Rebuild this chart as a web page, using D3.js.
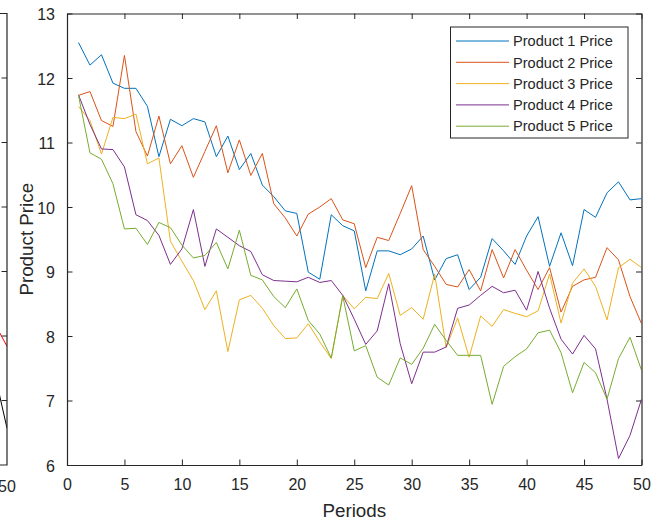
<!DOCTYPE html>
<html>
<head>
<meta charset="utf-8">
<script src="https://cdn.jsdelivr.net/npm/d3@7"></script>
<style>
    body { margin: 0; background: #fff; }
    text { font-family: "Liberation Sans", Arial, sans-serif; fill: #262626; }
</style>
</head>
<body>
<div id="chart"></div>
<script>
var periods = [1, 2, 3, 4, 5, 6, 7, 8, 9, 10, 11, 12, 13, 14, 15, 16, 17, 18, 19, 20,
    21, 22, 23, 24, 25, 26, 27, 28, 29, 30, 31, 32, 33, 34, 35, 36, 37, 38, 39, 40,
    41, 42, 43, 44, 45, 46, 47, 48, 49, 50];
var product1 = [12.55, 12.20, 12.36, 11.92, 11.84, 11.84, 11.56, 10.78, 11.36, 11.26,
    11.37, 11.32, 10.78, 11.10, 10.58, 10.83, 10.34, 10.16, 9.94, 9.90,
    8.99, 8.88, 9.88, 9.71, 9.63, 8.70, 9.32, 9.32, 9.26, 9.35,
    9.55, 8.87, 9.20, 9.26, 8.72, 8.91, 9.51, 9.32, 9.11, 9.55,
    9.85, 9.08, 9.60, 9.09, 9.96, 9.84, 10.22, 10.39, 10.11, 10.13];
var product2 = [11.73, 11.79, 11.34, 11.25, 12.35, 11.17, 10.79, 11.41, 10.67, 10.95,
    10.46, 10.86, 11.26, 10.53, 11.04, 10.49, 10.83, 10.05, 9.83, 9.55,
    9.89, 10.00, 10.13, 9.80, 9.74, 9.06, 9.53, 9.48, 9.90, 10.33,
    9.34, 9.08, 8.80, 8.76, 9.03, 8.70, 9.34, 8.90, 9.34, 9.02,
    8.72, 9.06, 8.37, 8.77, 8.87, 8.91, 9.37, 9.18, 8.61, 8.19];
var product3 = [11.56, 11.34, 10.82, 11.39, 11.37, 11.44, 10.67, 10.76, 9.47, 9.16,
    8.86, 8.41, 8.70, 7.76, 8.56, 8.63, 8.43, 8.16, 7.96, 7.97,
    8.19, 7.91, 7.65, 8.63, 8.42, 8.60, 8.58, 8.97, 8.32, 8.44,
    8.26, 8.96, 7.82, 8.28, 7.67, 8.31, 8.15, 8.41, 8.35, 8.30,
    8.39, 8.96, 8.20, 8.82, 9.04, 8.77, 8.25, 9.06, 9.19, 9.06];
var product4 = [11.74, 11.28, 10.90, 10.89, 10.62, 9.88, 9.79, 9.56, 9.11, 9.35,
    9.96, 9.08, 9.66, 9.53, 9.40, 9.31, 8.95, 8.86, 8.85, 8.84,
    8.91, 8.83, 8.86, 8.63, 8.26, 7.87, 8.08, 8.81, 7.88, 7.26,
    7.75, 7.75, 7.83, 8.43, 8.48, 8.63, 8.77, 8.67, 8.71, 8.40,
    9.00, 8.43, 7.95, 7.72, 8.01, 7.80, 7.02, 6.10, 6.46, 7.02];
var product5 = [11.73, 10.84, 10.74, 10.36, 9.66, 9.67, 9.42, 9.76, 9.68, 9.41,
    9.21, 9.25, 9.45, 9.04, 9.64, 8.94, 8.87, 8.61, 8.44, 8.73,
    8.24, 8.03, 7.66, 8.62, 7.77, 7.85, 7.36, 7.24, 7.66, 7.56,
    7.81, 8.18, 7.93, 7.70, 7.70, 7.70, 6.94, 7.53, 7.68, 7.80,
    8.05, 8.09, 7.74, 7.12, 7.59, 7.43, 7.02, 7.65, 7.98, 7.47];
var seriesNames = ["Product 1 Price", "Product 2 Price", "Product 3 Price", "Product 4 Price", "Product 5 Price"];
var xTicks = [0, 5, 10, 15, 20, 25, 30, 35, 40, 45, 50];
var yTicks = [6, 7, 8, 9, 10, 11, 12, 13];

// neighbouring subplot, only its right edge is visible
var leftPeriods = [49, 50];
var leftRed = [8.17, 7.84];
var leftBlack = [7.36, 6.57];

var outwidth = 663, outheight = 524;
var margin = { left: 67, top: 13.5, right: 21.5, bottom: 59 };
var width = outwidth - margin.left - margin.right;
var height = outheight - margin.top - margin.bottom;
var colors = ["#0072BD", "#D95319", "#EDB120", "#7E2F8E", "#77AC30"];
var axisColor = "#262626";
var tickLen = 5.5;

var svg = d3.select("#chart")
    .append("svg")
    .attr("width", outwidth)
    .attr("height", outheight);

var x = d3.scaleLinear().domain([0, 50]).range([margin.left, margin.left + width]);
var y = d3.scaleLinear().domain([6, 13]).range([margin.top + height, margin.top]);

var series = [product1, product2, product3, product4, product5].map(function (vals, i) {
    return { name: seriesNames[i], color: colors[i], values: vals };
});

var line = d3.line()
    .x(function (d, i) { return x(periods[i]); })
    .y(function (d) { return y(d); });

// left subplot remnant
var xLeft = d3.scaleLinear().domain([0, 50]).range([7 - width, 7]);
svg.append("clipPath").attr("id", "leftclip")
    .append("rect").attr("x", 0).attr("y", margin.top).attr("width", 7).attr("height", height);
var leftG = svg.append("g");
var leftLine = d3.line()
    .x(function (d, i) { return xLeft(leftPeriods[i]); })
    .y(function (d) { return y(d); });
leftG.selectAll(".left-line")
    .data([{ v: leftRed, c: "#FF0000" }, { v: leftBlack, c: "#000000" }])
    .join("path")
    .attr("class", "left-line")
    .attr("clip-path", "url(#leftclip)")
    .attr("fill", "none")
    .attr("stroke", function (d) { return d.c; })
    .attr("stroke-width", 1)
    .attr("d", function (d) { return leftLine(d.v); });
leftG.append("path")
    .attr("fill", "none")
    .attr("stroke", axisColor)
    .attr("stroke-width", 1.2)
    .attr("d", "M0," + y(13) + "H" + xLeft(50) + "V" + y(6) + "H0");
leftG.selectAll(".left-tick")
    .data(yTicks.slice(1, -1))
    .join("line")
    .attr("class", "left-tick")
    .attr("x1", xLeft(50) - tickLen)
    .attr("x2", xLeft(50))
    .attr("y1", function (d) { return y(d); })
    .attr("y2", function (d) { return y(d); })
    .attr("stroke", axisColor);
leftG.append("text")
    .attr("x", xLeft(50))
    .attr("y", y(6) + 27)
    .attr("text-anchor", "middle")
    .style("font-size", "16px")
    .text("50");

// data lines
svg.append("clipPath").attr("id", "plotclip")
    .append("rect").attr("x", margin.left).attr("y", margin.top).attr("width", width).attr("height", height);
svg.selectAll(".series-line")
    .data(series)
    .join("path")
    .attr("class", "series-line")
    .attr("clip-path", "url(#plotclip)")
    .attr("fill", "none")
    .attr("stroke", function (d) { return d.color; })
    .attr("stroke-width", 1)
    .attr("stroke-linejoin", "miter")
    .attr("d", function (d) { return line(d.values); });

// axes with box, ticks pointing inwards
var fmt = d3.format("d");
var xAxis = svg.append("g")
    .attr("transform", "translate(0," + (margin.top + height) + ")")
    .call(d3.axisBottom(x).tickValues(xTicks).tickFormat(fmt).tickSizeInner(-tickLen).tickSizeOuter(0).tickPadding(14));
var xAxisTop = svg.append("g")
    .attr("transform", "translate(0," + margin.top + ")")
    .call(d3.axisTop(x).tickValues(xTicks).tickSizeInner(-tickLen).tickSizeOuter(0).tickFormat(""));
var yAxis = svg.append("g")
    .attr("transform", "translate(" + margin.left + ",0)")
    .call(d3.axisLeft(y).tickValues(yTicks).tickFormat(fmt).tickSizeInner(-tickLen).tickSizeOuter(0).tickPadding(12));
var yAxisRight = svg.append("g")
    .attr("transform", "translate(" + (margin.left + width) + ",0)")
    .call(d3.axisRight(y).tickValues(yTicks).tickSizeInner(-tickLen).tickSizeOuter(0).tickFormat(""));

[xAxis, xAxisTop, yAxis, yAxisRight].forEach(function (g) {
    g.select(".domain").attr("stroke", axisColor).attr("stroke-width", 1.2);
    g.selectAll(".tick line").attr("stroke", axisColor);
    g.selectAll(".tick text")
        .attr("fill", axisColor)
        .style("font-family", "'Liberation Sans', Arial, sans-serif")
        .style("font-size", "16px");
});
yAxis.selectAll(".tick text").attr("dy", "0.4em");

// axis titles
svg.append("text")
    .attr("x", margin.left + width / 2)
    .attr("y", 517)
    .attr("text-anchor", "middle")
    .style("font-size", "18.8px")
    .text("Periods");
svg.append("text")
    .attr("transform", "translate(33," + (margin.top + height / 2) + ") rotate(-90)")
    .attr("text-anchor", "middle")
    .style("font-size", "18.8px")
    .text("Product Price");

// legend
var legend = svg.append("g").attr("class", "legend");
legend.append("rect")
    .attr("x", 450.5)
    .attr("y", 27)
    .attr("width", 177.5)
    .attr("height", 111)
    .attr("fill", "#fff")
    .attr("stroke", axisColor)
    .attr("stroke-width", 1);
var legItem = legend.selectAll(".leg-item")
    .data(series)
    .join("g")
    .attr("class", "leg-item")
    .attr("transform", function (d, i) { return "translate(0," + (41 + i * 21.3) + ")"; });
legItem.append("line")
    .attr("x1", 456)
    .attr("x2", 509)
    .attr("stroke", function (d) { return d.color; })
    .attr("stroke-width", 1);
legItem.append("text")
    .attr("x", 513)
    .attr("dy", "0.36em")
    .style("font-size", "14.6px")
    .text(function (d) { return d.name; });
</script>
</body>
</html>
